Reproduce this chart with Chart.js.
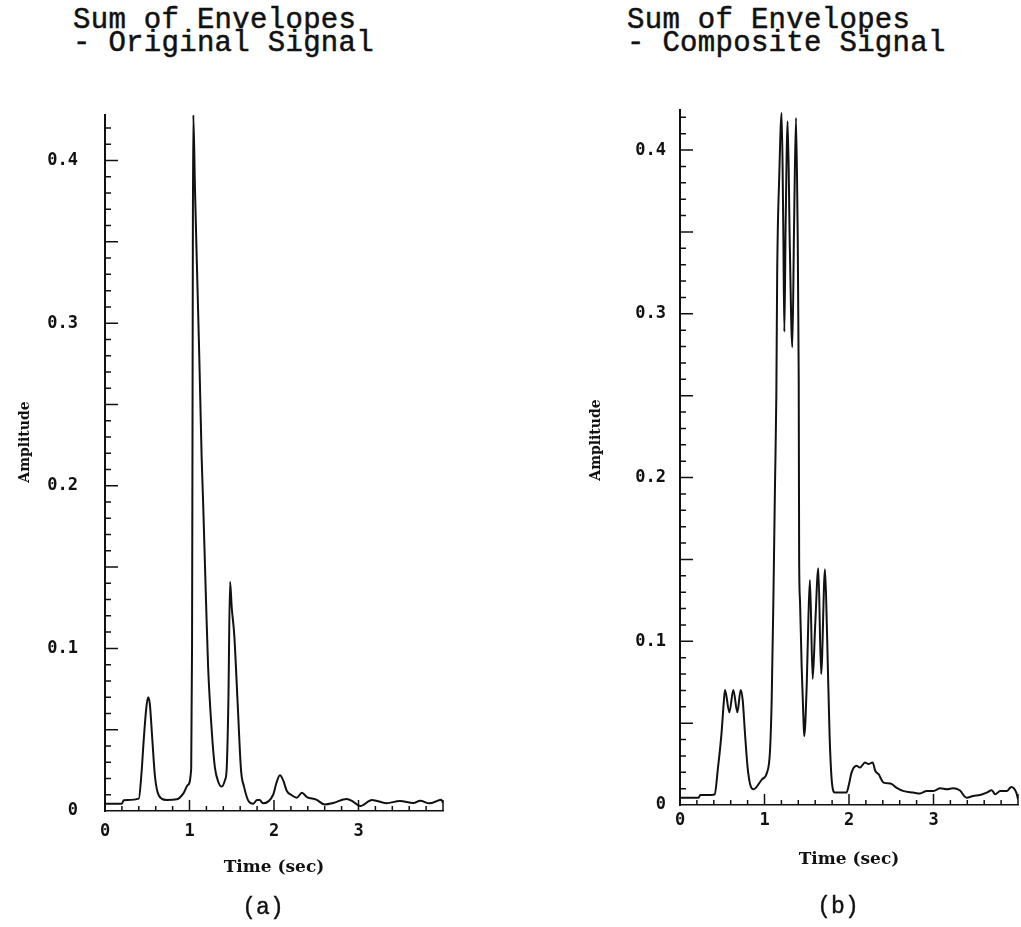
<!DOCTYPE html>
<html>
<head>
<meta charset="utf-8">
<script src="https://cdn.jsdelivr.net/npm/chart.js@4.4.0/dist/chart.umd.min.js"></script>
<style>
  body { margin:0; background:#fff; width:1021px; height:927px; position:relative; overflow:hidden; color:#111; }
  .title { position:absolute; font-family:'Liberation Mono', monospace; font-size:29px; letter-spacing:0.3px; line-height:23px; white-space:pre; -webkit-text-stroke:0.5px #111; }
  .ylab { position:absolute; width:120px; height:20px; line-height:20px; text-align:center; font-family:'DejaVu Serif', serif; font-weight:bold; font-size:14px; transform:rotate(-90deg); white-space:nowrap; }
  .cap { position:absolute; width:80px; text-align:center; font-family:'Liberation Mono', monospace; font-size:23px; line-height:24px; -webkit-text-stroke:0.4px #111; }
  canvas { position:absolute; }
</style>
</head>
<body>
<div class="title" style="left:73px; top:9px;">Sum of Envelopes
- Original Signal</div>
<div class="title" style="left:627px; top:9px;">Sum of Envelopes
- Composite Signal</div>

<canvas id="chartA" width="470" height="800" style="left:0; top:100px;"></canvas>
<canvas id="chartB" width="511" height="800" style="left:510px; top:100px;"></canvas>

<div class="ylab" style="left:-36px; top:432px;">Amplitude</div>
<div class="ylab" style="left:535px; top:430px;">Amplitude</div>
<div class="cap" style="left:223px; top:896px;">(a)</div>
<div class="cap" style="left:798px; top:895px;">(b)</div>

<script>
// ===== Data (time in sec, amplitude) =====
const timeA = [0, 0.2, 0.22, 0.4, 0.43, 0.46, 0.49, 0.51, 0.53, 0.56, 0.59, 0.62, 0.67, 0.73, 0.85, 0.93, 0.98,
  1.02, 1.03, 1.035, 1.04, 1.045, 1.065, 1.085, 1.116, 1.144, 1.16, 1.195, 1.22, 1.265, 1.30, 1.34, 1.38,
  1.42, 1.44, 1.46, 1.48, 1.50, 1.53, 1.57, 1.61, 1.645, 1.70, 1.755, 1.80, 1.83, 1.87, 1.99, 2.03, 2.07,
  2.11, 2.15, 2.21, 2.27, 2.33, 2.39, 2.50, 2.60, 2.70, 2.86, 2.94, 3.02, 3.16, 3.33, 3.49, 3.65, 3.73,
  3.84, 3.98, 4.0];
const ampA = [0.0045, 0.0045, 0.0066, 0.0076, 0.022, 0.045, 0.064, 0.070, 0.066, 0.044, 0.022, 0.012, 0.0076, 0.0068, 0.0072, 0.011, 0.016,
  0.026, 0.10, 0.22, 0.36, 0.428, 0.382, 0.341, 0.279, 0.217, 0.192, 0.130, 0.089, 0.048, 0.027, 0.018, 0.015,
  0.019, 0.026, 0.067, 0.141, 0.125, 0.108, 0.066, 0.025, 0.015, 0.006, 0.0045, 0.0068, 0.0068, 0.0047, 0.010, 0.0175, 0.022,
  0.0187, 0.0125, 0.0097, 0.0082, 0.0112, 0.0086, 0.0070, 0.0040, 0.0049, 0.0074, 0.0056, 0.0030, 0.0068, 0.0048, 0.0061, 0.0049, 0.0063,
  0.0047, 0.0069, 0.0050];

const timeB = [0, 0.22, 0.24, 0.375, 0.41, 0.45, 0.49, 0.52, 0.533, 0.584, 0.631, 0.679, 0.718, 0.742, 0.77, 0.80, 0.83, 0.87,
  0.97, 1.03, 1.065, 1.085, 1.105, 1.124, 1.14, 1.15, 1.175, 1.203, 1.222, 1.235, 1.25, 1.274, 1.30, 1.329, 1.35, 1.373,
  1.39, 1.405, 1.41, 1.42, 1.44, 1.46, 1.47, 1.50, 1.52, 1.538, 1.57, 1.60, 1.637, 1.67, 1.716, 1.74, 1.77, 1.80, 1.834,
  1.97, 2.0, 2.03, 2.09, 2.13, 2.19, 2.23, 2.28, 2.31, 2.35, 2.41, 2.49, 2.56, 2.64, 2.76, 2.84, 2.92, 3.0, 3.08,
  3.16, 3.23, 3.31, 3.39, 3.47, 3.55, 3.63, 3.69, 3.73, 3.79, 3.87, 3.92, 3.98, 4.0];
const ampB = [0.0045, 0.0045, 0.0061, 0.0061, 0.0065, 0.023, 0.043, 0.064, 0.0703, 0.0566, 0.0703, 0.0566, 0.0703, 0.064, 0.043, 0.023, 0.0127, 0.0096,
  0.0157, 0.0198, 0.033, 0.064, 0.125, 0.195, 0.25, 0.324, 0.385, 0.4227, 0.354, 0.289, 0.354, 0.4176, 0.34, 0.2796, 0.354, 0.4196,
  0.36, 0.26, 0.15, 0.125, 0.084, 0.054, 0.042, 0.074, 0.115, 0.1374, 0.077, 0.11, 0.1446, 0.080, 0.144, 0.105, 0.043, 0.0127, 0.0076,
  0.0076, 0.0127, 0.0198, 0.0239, 0.0229, 0.026, 0.025, 0.026, 0.0209, 0.0188, 0.0137, 0.0131, 0.0106, 0.0086, 0.0076, 0.0070, 0.0086, 0.0086, 0.0102,
  0.0096, 0.0102, 0.0090, 0.0045, 0.0055, 0.0061, 0.0076, 0.0090, 0.0065, 0.0086, 0.0086, 0.0110, 0.0076, 0.0035];

const xTickVals = [0, 1, 2, 3];
const yTickVals = [0, 0.1, 0.2, 0.3, 0.4];
const yTickLabels = ['0', '0.1', '0.2', '0.3', '0.4'];

const ink = '#111';

// ===== inward tick marks drawn from the scales =====
const inwardTicks = {
  id: 'inwardTicks',
  afterDatasetsDraw(chart) {
    const { ctx, chartArea, scales: { x, y } } = chart;
    ctx.save();
    ctx.strokeStyle = ink;
    ctx.lineWidth = 1.5;
    ctx.beginPath();
    const nx = Math.round((x.max - x.min) / 0.2);
    for (let i = 0; i <= nx; i++) {
      const px = x.getPixelForValue(x.min + i * 0.2);
      const len = (i % 5 === 0) ? 11 : 5;
      ctx.moveTo(px, chartArea.bottom);
      ctx.lineTo(px, chartArea.bottom - len);
    }
    const ny = Math.floor(y.max / 0.01 + 1e-6);
    for (let i = 1; i <= ny; i++) {
      const py = y.getPixelForValue(i * 0.01);
      const len = (i % 5 === 0) ? 13 : 6;
      ctx.moveTo(chartArea.left, py);
      ctx.lineTo(chartArea.left + len, py);
    }
    ctx.stroke();
    ctx.restore();
  }
};

// no extra padding for label overflow, so the plot box stays where we put it
function noPad(s) {
  s.paddingTop = 0; s.paddingBottom = 0; s.paddingLeft = 0; s.paddingRight = 0;
}

function makeChart(id, times, amps, o) {
  return new Chart(document.getElementById(id).getContext('2d'), {
    type: 'line',
    data: {
      datasets: [{
        data: times.map((t, i) => ({ x: t, y: amps[i] })),
        borderColor: ink,
        borderWidth: 2,
        pointRadius: 0,
        fill: false,
        cubicInterpolationMode: 'monotone'
      }]
    },
    options: {
      responsive: false,
      animation: false,
      layout: { padding: { left: 0, right: o.padRight, top: o.padTop, bottom: 0 } },
      plugins: { legend: { display: false }, tooltip: { enabled: false } },
      scales: {
        x: {
          type: 'linear',
          min: 0, max: 4,
          afterFit: s => { s.height = o.xHeight; noPad(s); },
          afterBuildTicks: s => { s.ticks = xTickVals.map(v => ({ value: v })); },
          grid: { display: false, drawTicks: false },
          border: { display: true, color: ink, width: 1.5, dash: [7, 3] },
          ticks: {
            color: ink, padding: o.xTickPad, autoSkip: false, maxRotation: 0,
            font: { family: 'DejaVu Sans Mono', size: 17, weight: 'bold' },
            callback: v => String(v)
          },
          title: {
            display: true, text: 'Time (sec)', color: ink,
            font: { family: 'DejaVu Serif', size: 17, weight: 'bold' },
            padding: { top: 0, bottom: o.xTitlePad }
          }
        },
        y: {
          type: 'linear',
          min: 0, max: o.yMax,
          afterFit: s => { s.width = o.yWidth; noPad(s); },
          afterBuildTicks: s => { s.ticks = yTickVals.map(v => ({ value: v })); },
          grid: { display: false, drawTicks: false },
          border: { display: true, color: ink, width: 2 },
          ticks: {
            color: ink, padding: o.yTickPad, autoSkip: false,
            font: { family: 'DejaVu Sans Mono', size: 17, weight: 'bold' },
            callback: v => yTickLabels[yTickVals.indexOf(v)]
          }
        }
      }
    },
    plugins: [inwardTicks]
  });
}

makeChart('chartA', timeA, ampA, { padRight: 27, padTop: 15, xHeight: 89, yWidth: 105, yMax: 0.428, xTickPad: 10, xTitlePad: 22, yTickPad: 27 });
makeChart('chartB', timeB, ampB, { padRight: 3, padTop: 10, xHeight: 95, yWidth: 170, yMax: 0.4245, xTickPad: 5, xTitlePad: 30, yTickPad: 14 });
</script>
</body>
</html>
